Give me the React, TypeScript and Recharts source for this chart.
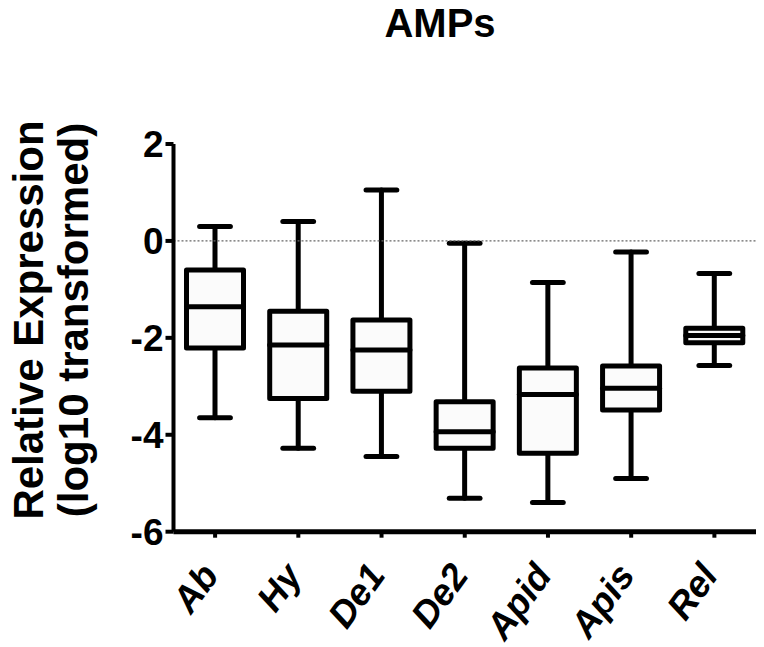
import { BarChart, Bar, XAxis, YAxis, ReferenceLine } from 'recharts';

const categories = ['Ab', 'Hy', 'De1', 'De2', 'Apid', 'Apis', 'Rel'];
const whiskerMax = [0.3, 0.4, 1.05, -0.05, -0.86, -0.23, -0.67];
const upperQuartile = [-0.6, -1.45, -1.63, -3.32, -2.62, -2.58, -1.8];
const medians = [-1.36, -2.15, -2.25, -3.94, -3.17, -3.04, -1.95];
const lowerQuartile = [-2.21, -3.25, -3.1, -4.28, -4.38, -3.49, -2.1];
const whiskerMin = [-3.65, -4.28, -4.45, -5.31, -5.4, -4.9, -2.57];
const yTicks = [-6, -4, -2, 0, 2];

const data = categories.map((name, i) => ({
  name,
  max: whiskerMax[i],
  q3: upperQuartile[i],
  median: medians[i],
  q1: lowerQuartile[i],
  min: whiskerMin[i],
}));

const FONT = '"Liberation Sans", Arial, sans-serif';

// bar covers [min, max]; inner levels are placed on the same linear scale
function BoxShape(props: any) {
  const { x, y, width, height, payload } = props;
  const span = payload.max - payload.min;
  const py = (v: number) => y + ((payload.max - v) / span) * height;
  const cx = x + width / 2;
  const cap = width * 0.27;
  const sw = 5;
  return (
    <g stroke="#000" strokeWidth={sw} strokeLinecap="round" strokeLinejoin="round">
      <line x1={cx} x2={cx} y1={py(payload.max)} y2={py(payload.q3)} />
      <line x1={cx} x2={cx} y1={py(payload.q1)} y2={py(payload.min)} />
      <line x1={cx - cap} x2={cx + cap} y1={py(payload.max)} y2={py(payload.max)} />
      <line x1={cx - cap} x2={cx + cap} y1={py(payload.min)} y2={py(payload.min)} />
      <rect x={x} y={py(payload.q3)} width={width} height={py(payload.q1) - py(payload.q3)} fill="#fbfbfb" />
      <line x1={x} x2={x + width} y1={py(payload.median)} y2={py(payload.median)} />
    </g>
  );
}

function CategoryTick(props: any) {
  const { x, y, payload } = props;
  return (
    <g transform={`translate(${x + 5},${y + 36}) rotate(-54)`}>
      <text
        textAnchor="end"
        fill="#000"
        fontSize={37}
        fontWeight="bold"
        fontStyle="italic"
        fontFamily={FONT}
      >
        {payload.value}
      </text>
    </g>
  );
}

function YLabel() {
  const cy = 312;
  return (
    <g fontFamily={FONT} fontWeight="bold" fontSize={42} fill="#000">
      <text x={35} y={cy} textAnchor="middle" transform={`rotate(-90 35 ${cy})`}>
        Relative Expression
      </text>
      <text x={80} y={cy} textAnchor="middle" transform={`rotate(-90 80 ${cy})`}>
        (log10 transformed)
      </text>
    </g>
  );
}

export default function App() {
  return (
    <div style={{ position: 'relative', width: 756, height: 639, fontFamily: FONT }}>
      <div
        style={{
          position: 'absolute',
          top: -5,
          left: 332,
          width: 200,
          textAlign: 'center',
          fontSize: 40,
          lineHeight: '40px',
          fontWeight: 'bold',
          color: '#000',
        }}
      >
        AMPs
      </div>
      <BarChart
        width={756}
        height={639}
        data={data}
        margin={{ top: 136, right: 8, left: 65.5, bottom: 15.3 }}
      >
        <ReferenceLine y={0} stroke="#666" strokeWidth={1.3} strokeDasharray="2 2" />
        <XAxis
          dataKey="name"
          height={100}
          interval={0}
          tickSize={6}
          axisLine={{ stroke: '#000', strokeWidth: 5 }}
          tickLine={{ stroke: '#000', strokeWidth: 4 }}
          tick={<CategoryTick />}
        />
        <YAxis
          type="number"
          domain={[-6, 2]}
          ticks={yTicks}
          interval={0}
          width={100}
          tickSize={8}
          axisLine={{ stroke: '#000', strokeWidth: 4 }}
          tickLine={{ stroke: '#000', strokeWidth: 4 }}
          tick={{ fill: '#000', fontSize: 37, fontWeight: 'bold', fontFamily: FONT }}
          label={<YLabel />}
        />
        <Bar
          dataKey={(d: any) => [d.min, d.max]}
          barSize={57}
          shape={<BoxShape />}
          isAnimationActive={false}
        />
      </BarChart>
    </div>
  );
}
